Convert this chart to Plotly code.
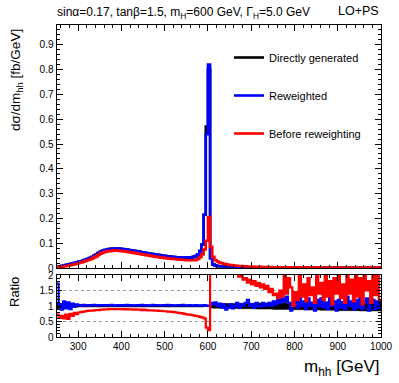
import plotly.graph_objects as go

# ---------------- data (5 GeV bins from 250 to 1000 GeV) ----------------
bin_start = 250
bin_width = 5

direct_gen = [
    0.004, 0.006, 0.008, 0.010, 0.012, 0.014, 0.016, 0.018, 0.020, 0.022,
    0.025, 0.027, 0.030, 0.033, 0.036, 0.040, 0.044, 0.049, 0.054, 0.060,
    0.065, 0.069, 0.072, 0.074, 0.076, 0.077, 0.078, 0.078, 0.078, 0.077,
    0.076, 0.075, 0.074, 0.072, 0.071, 0.069, 0.068, 0.066, 0.065, 0.063,
    0.062, 0.060, 0.059, 0.057, 0.056, 0.054, 0.053, 0.052, 0.050, 0.049,
    0.048, 0.047, 0.046, 0.045, 0.044, 0.043, 0.043, 0.042, 0.042, 0.042,
    0.042, 0.043, 0.043, 0.045, 0.048, 0.055, 0.068, 0.095, 0.215, 0.570,
    0.800, 0.040, 0.014, 0.010, 0.008, 0.007, 0.006, 0.006, 0.005, 0.005,
    0.005, 0.004, 0.004, 0.004, 0.004, 0.003, 0.003, 0.003, 0.003, 0.003,
    0.003, 0.003, 0.003, 0.002, 0.002, 0.002, 0.002, 0.002, 0.002, 0.002,
    0.002, 0.002, 0.002, 0.002, 0.002, 0.002, 0.002, 0.002, 0.002, 0.002,
    0.002, 0.002, 0.002, 0.002, 0.001, 0.001, 0.001, 0.001, 0.001, 0.001,
    0.001, 0.001, 0.001, 0.001, 0.001, 0.001, 0.001, 0.001, 0.001, 0.001,
    0.001, 0.001, 0.001, 0.001, 0.001, 0.001, 0.001, 0.001, 0.001, 0.001,
    0.001, 0.001, 0.001, 0.001, 0.001, 0.001, 0.001, 0.001, 0.001, 0.001,
]

reweighted = [
    0.004, 0.006, 0.008, 0.010, 0.012, 0.014, 0.016, 0.018, 0.020, 0.022,
    0.025, 0.027, 0.030, 0.033, 0.036, 0.040, 0.044, 0.049, 0.054, 0.060,
    0.065, 0.069, 0.072, 0.074, 0.076, 0.077, 0.078, 0.078, 0.078, 0.077,
    0.076, 0.075, 0.074, 0.072, 0.071, 0.069, 0.068, 0.066, 0.065, 0.063,
    0.062, 0.060, 0.059, 0.057, 0.056, 0.054, 0.053, 0.052, 0.050, 0.049,
    0.048, 0.047, 0.046, 0.045, 0.044, 0.043, 0.043, 0.042, 0.042, 0.042,
    0.042, 0.043, 0.043, 0.045, 0.048, 0.055, 0.068, 0.095, 0.215, 0.540,
    0.820, 0.040, 0.014, 0.010, 0.008, 0.007, 0.006, 0.006, 0.005, 0.005,
    0.005, 0.004, 0.004, 0.004, 0.004, 0.003, 0.003, 0.003, 0.003, 0.003,
    0.003, 0.003, 0.003, 0.002, 0.002, 0.002, 0.002, 0.002, 0.002, 0.002,
    0.002, 0.002, 0.002, 0.002, 0.002, 0.002, 0.002, 0.002, 0.002, 0.002,
    0.002, 0.002, 0.002, 0.002, 0.001, 0.001, 0.001, 0.001, 0.001, 0.001,
    0.001, 0.001, 0.001, 0.001, 0.001, 0.001, 0.001, 0.001, 0.001, 0.001,
    0.001, 0.001, 0.001, 0.001, 0.001, 0.001, 0.001, 0.001, 0.001, 0.001,
    0.001, 0.001, 0.001, 0.001, 0.001, 0.001, 0.001, 0.001, 0.001, 0.001,
]

before_rw = [
    0.003, 0.004, 0.005, 0.006, 0.008, 0.009, 0.011, 0.013, 0.015, 0.017,
    0.020, 0.022, 0.025, 0.028, 0.031, 0.034, 0.038, 0.043, 0.047, 0.053,
    0.058, 0.062, 0.065, 0.067, 0.068, 0.069, 0.070, 0.070, 0.070, 0.069,
    0.068, 0.067, 0.066, 0.064, 0.063, 0.061, 0.060, 0.058, 0.057, 0.055,
    0.054, 0.052, 0.051, 0.049, 0.048, 0.046, 0.045, 0.044, 0.042, 0.041,
    0.040, 0.039, 0.038, 0.037, 0.036, 0.035, 0.034, 0.033, 0.033, 0.032,
    0.031, 0.031, 0.031, 0.031, 0.032, 0.036, 0.044, 0.055, 0.075, 0.110,
    0.205, 0.085, 0.045, 0.032, 0.026, 0.022, 0.019, 0.017, 0.015, 0.013,
    0.012, 0.011, 0.010, 0.009, 0.008, 0.008, 0.007, 0.007, 0.006, 0.006,
    0.006, 0.005, 0.005, 0.005, 0.005, 0.004, 0.004, 0.004, 0.004, 0.004,
    0.003, 0.003, 0.003, 0.003, 0.003, 0.003, 0.003, 0.003, 0.003, 0.003,
    0.003, 0.003, 0.003, 0.003, 0.003, 0.002, 0.002, 0.002, 0.002, 0.002,
    0.002, 0.002, 0.002, 0.002, 0.002, 0.002, 0.002, 0.002, 0.002, 0.002,
    0.002, 0.002, 0.002, 0.002, 0.002, 0.002, 0.002, 0.002, 0.002, 0.002,
    0.002, 0.002, 0.002, 0.002, 0.002, 0.002, 0.002, 0.002, 0.002, 0.002,
]

# ratio panel values (read from the lower pad)
ratio_direct_err = [
    0.10, 0.08, 0.07, 0.07, 0.06, 0.06, 0.05, 0.05, 0.05, 0.04,
    0.03, 0.03, 0.03, 0.03, 0.03, 0.03, 0.03, 0.03, 0.03, 0.03,
    0.03, 0.03, 0.03, 0.03, 0.03, 0.03, 0.03, 0.03, 0.03, 0.03,
    0.03, 0.03, 0.03, 0.03, 0.03, 0.03, 0.03, 0.03, 0.03, 0.03,
    0.03, 0.03, 0.03, 0.03, 0.03, 0.03, 0.03, 0.03, 0.03, 0.03,
    0.03, 0.03, 0.03, 0.03, 0.03, 0.03, 0.03, 0.03, 0.03, 0.03,
    0.03, 0.03, 0.03, 0.03, 0.03, 0.03, 0.03, 0.03, 0.02, 0.02,
    0.02, 0.06, 0.07, 0.07, 0.07, 0.07, 0.07, 0.08, 0.08, 0.08,
    0.08, 0.08, 0.08, 0.08, 0.09, 0.09, 0.09, 0.09, 0.09, 0.09,
    0.09, 0.09, 0.10, 0.10, 0.10, 0.10, 0.10, 0.10, 0.10, 0.10,
    0.11, 0.11, 0.11, 0.11, 0.11, 0.11, 0.11, 0.11, 0.12, 0.12,
    0.12, 0.12, 0.12, 0.12, 0.12, 0.13, 0.13, 0.13, 0.13, 0.13,
    0.13, 0.13, 0.14, 0.14, 0.14, 0.14, 0.14, 0.14, 0.14, 0.14,
    0.15, 0.15, 0.15, 0.15, 0.15, 0.15, 0.15, 0.15, 0.15, 0.15,
    0.16, 0.16, 0.16, 0.16, 0.16, 0.16, 0.16, 0.16, 0.16, 0.16,
]

ratio_reweighted = [
    1.72, 1.05, 0.88, 1.15, 0.92, 1.12, 0.90, 1.08, 0.98, 1.05,
    1.03, 1.00, 1.04, 1.02, 1.03, 1.01, 1.03, 1.04, 1.02, 1.03,
    1.02, 1.03, 1.01, 1.03, 1.02, 1.04, 1.02, 1.01, 1.03, 1.02,
    1.03, 1.02, 1.04, 1.02, 1.03, 1.01, 1.02, 1.03, 1.02, 1.04,
    1.02, 1.03, 1.01, 1.02, 1.04, 1.02, 1.03, 1.02, 1.01, 1.03,
    1.02, 1.04, 1.02, 1.03, 1.01, 1.02, 1.03, 1.02, 1.04, 1.01,
    1.02, 1.03, 1.01, 1.02, 1.03, 1.00, 1.02, 1.01, 1.03, 1.01,
    1.00, 1.10, 1.05, 1.12, 1.00, 1.08, 0.95, 1.05, 0.88, 0.95,
    1.05, 0.92, 1.00, 1.10, 0.95, 1.05, 1.00, 1.10, 1.20, 1.00,
    1.05, 0.95, 1.10, 1.00, 0.98, 1.10, 1.00, 1.05, 1.10, 1.00,
    1.15, 1.05, 1.20, 1.10, 1.25, 1.15, 1.30, 1.10, 0.85, 1.00,
    1.20, 0.95, 1.30, 1.00, 1.15, 0.90, 1.25, 1.00, 1.10, 0.85,
    1.20, 1.00, 1.25, 0.95, 1.10, 0.90, 1.30, 1.00, 1.15, 0.85,
    1.20, 0.95, 1.10, 0.90, 1.30, 1.00, 1.15, 0.88, 1.20, 0.95,
    1.30, 0.90, 1.10, 1.25, 0.85, 1.10, 1.20, 0.90, 1.15, 0.95,
]

ratio_before = [
    0.72, 0.62, 0.68, 0.60, 0.72, 0.58, 0.75, 0.68, 0.78, 0.74,
    0.79, 0.80, 0.82, 0.83, 0.84, 0.85, 0.85, 0.86, 0.87, 0.87,
    0.88, 0.88, 0.89, 0.89, 0.90, 0.90, 0.90, 0.90, 0.90, 0.90,
    0.90, 0.89, 0.90, 0.89, 0.89, 0.88, 0.89, 0.88, 0.88, 0.87,
    0.88, 0.87, 0.86, 0.86, 0.86, 0.85, 0.85, 0.84, 0.84, 0.83,
    0.83, 0.82, 0.82, 0.81, 0.80, 0.79, 0.78, 0.77, 0.76, 0.74,
    0.73, 0.72, 0.71, 0.70, 0.68, 0.67, 0.65, 0.63, 0.60, 0.30,
    0.22, 3.50, 3.20, 3.00, 2.80, 2.60, 2.50, 2.40, 2.30, 2.30,
    2.20, 2.20, 2.10, 2.10, 1.95, 2.00, 1.85, 1.90, 1.75, 1.85,
    1.70, 1.80, 1.65, 1.75, 1.60, 1.70, 1.55, 1.65, 1.45, 1.55,
    1.35, 1.40, 1.25, 1.50, 1.30, 2.10, 1.40, 1.90, 1.60, 1.00,
    1.45, 1.20, 2.00, 1.30, 1.70, 1.15, 1.90, 1.35, 1.60, 1.10,
    2.00, 1.40, 1.75, 1.20, 2.10, 1.30, 1.80, 1.05, 1.90, 1.40,
    2.20, 1.25, 1.70, 1.10, 2.10, 1.40, 1.85, 1.15, 2.30, 1.30,
    1.90, 1.05, 2.20, 1.50, 1.80, 1.10, 2.40, 1.35, 2.00, 1.20,
]

series_names = ["Directly generated", "Reweighted", "Before reweighting"]
series_colors = ["#000000", "#0000ff", "#ff0000"]

main_y_ticks = [0, 0.1, 0.2, 0.3, 0.4, 0.5, 0.6, 0.7, 0.8, 0.9]
main_y_labels = ["0", "0.1", "0.2", "0.3", "0.4", "0.5", "0.6", "0.7",
                 "0.8", "0.9"]
ratio_y_ticks = [0, 0.5, 1, 1.5, 2]
ratio_y_labels = ["0", "0.5", "1", "1.5", "2"]
x_ticks = [300, 400, 500, 600, 700, 800, 900, 1000]
x_labels = ["300", "400", "500", "600", "700", "800", "900", "1000"]

title_text = ("sinα=0.17, tanβ=1.5, m<sub>H</sub>=600 GeV, "
              "Γ<sub>H</sub>=5.0 GeV")

# ---------------- helpers ----------------
nb = len(reweighted)
edges = [bin_start + i * bin_width for i in range(nb + 1)]


def step(vals):
    return edges, list(vals) + [vals[-1]]


W, H = 399, 383
FONT = "Liberation Sans, Arial, Helvetica, sans-serif"


def px_x(p):
    return p / W


def px_y(p):
    return 1 - p / H


fig = go.Figure()

# main pad
main = [direct_gen, reweighted, before_rw]
for vals, name, col in zip(main, series_names, series_colors):
    xs, ys = step(vals)
    fig.add_trace(go.Scatter(
        x=xs, y=ys, mode="lines", line=dict(color=col, width=2.6, shape="hv"),
        name=name, legendgroup=name, xaxis="x", yaxis="y"))

# ratio pad: direct generated band around 1
lo = [1 - e for e in ratio_direct_err]
hi = [1 + e for e in ratio_direct_err]
xs, ylo = step(lo)
_, yhi = step(hi)
fig.add_trace(go.Scatter(x=xs, y=ylo, mode="lines",
                         line=dict(color="black", width=0.5, shape="hv"),
                         showlegend=False, xaxis="x2", yaxis="y2"))
fig.add_trace(go.Scatter(x=xs, y=yhi, mode="lines", fill="tonexty",
                         fillcolor="black",
                         line=dict(color="black", width=0.5, shape="hv"),
                         showlegend=False, xaxis="x2", yaxis="y2"))
for vals, col in [(ratio_reweighted, "#0000ff"), (ratio_before, "#ff0000")]:
    xs, ys = step(vals)
    fig.add_trace(go.Scatter(x=xs, y=ys, mode="lines",
                             line=dict(color=col, width=2.2, shape="hv"),
                             showlegend=False, xaxis="x2", yaxis="y2"))

xdom = [px_x(56.5), px_x(381)]
tickfont = dict(family=FONT, size=10, color="black")


def axis(**kw):
    base = dict(showline=True, linecolor="black", linewidth=1,
                mirror="ticks", ticks="inside", tickcolor="black",
                tickfont=tickfont, zeroline=False, showgrid=False,
                ticklabeloverflow="allow", automargin=False)
    base.update(kw)
    return base


fig.update_layout(
    width=W, height=H,
    margin=dict(l=0, r=0, t=0, b=0, autoexpand=False),
    paper_bgcolor="white", plot_bgcolor="white",
    font=dict(family=FONT, color="black"),
    xaxis=axis(domain=xdom, range=[250, 1000], anchor="y",
               showticklabels=False, tickvals=x_ticks, ticklen=6,
               minor=dict(dtick=20, tick0=0, ticklen=3, ticks="inside",
                          tickcolor="black")),
    yaxis=axis(domain=[px_y(268), px_y(25)], range=[0, 0.98], anchor="x",
               side="left", showticklabels=True,
               tickvals=main_y_ticks, ticktext=main_y_labels, ticklen=6,
               minor=dict(dtick=0.02, tick0=0, ticklen=3, ticks="inside",
                          tickcolor="black")),
    xaxis2=axis(domain=xdom, range=[250, 1000], anchor="y2",
                tickvals=x_ticks, ticktext=x_labels, ticklen=6,
                minor=dict(dtick=20, tick0=0, ticklen=3, ticks="inside",
                           tickcolor="black")),
    yaxis2=axis(domain=[px_y(337), px_y(275)], range=[0, 2], anchor="x2",
                tickvals=ratio_y_ticks, ticktext=ratio_y_labels, ticklen=5,
                minor=dict(dtick=0.1, tick0=0, ticklen=3, ticks="inside",
                           tickcolor="black"),
                showgrid=True, gridcolor="#999999", griddash="dot",
                gridwidth=1),
    legend=dict(x=px_x(229), y=px_y(43), xanchor="left", yanchor="top",
                bgcolor="rgba(0,0,0,0)", font=dict(family=FONT, size=11),
                tracegroupgap=19, itemwidth=30),
    showlegend=True,
)

fig.add_annotation(text=title_text, x=px_x(55), y=px_y(13), xref="paper",
                   yref="paper", xanchor="left", yanchor="middle",
                   showarrow=False, font=dict(family=FONT, size=12))
fig.add_annotation(text="LO+PS", x=px_x(381), y=px_y(11), xref="paper",
                   yref="paper", xanchor="right", yanchor="middle",
                   showarrow=False, font=dict(family=FONT, size=12.5))
fig.add_annotation(text="dσ/dm<sub>hh</sub> [fb/GeV]", x=px_x(16),
                   y=px_y(27), xref="paper", yref="paper", xanchor="center",
                   yanchor="top", textangle=-90, showarrow=False,
                   font=dict(family=FONT, size=13.5))
fig.add_annotation(text="Ratio", x=px_x(14), y=px_y(275), xref="paper",
                   yref="paper", xanchor="center", yanchor="top",
                   textangle=-90, showarrow=False,
                   font=dict(family=FONT, size=13))
fig.add_annotation(text="m<sub>hh</sub> [GeV]", x=px_x(382), y=px_y(368),
                   xref="paper", yref="paper", xanchor="right",
                   yanchor="middle", showarrow=False,
                   font=dict(family=FONT, size=17))

# remove the browser's default page margin so the figure sits at (0, 0)
fig.write_html("out.html",
               config={"displayModeBar": False},
               post_script="document.body.style.margin='0';"
                           "document.body.style.padding='0';")
